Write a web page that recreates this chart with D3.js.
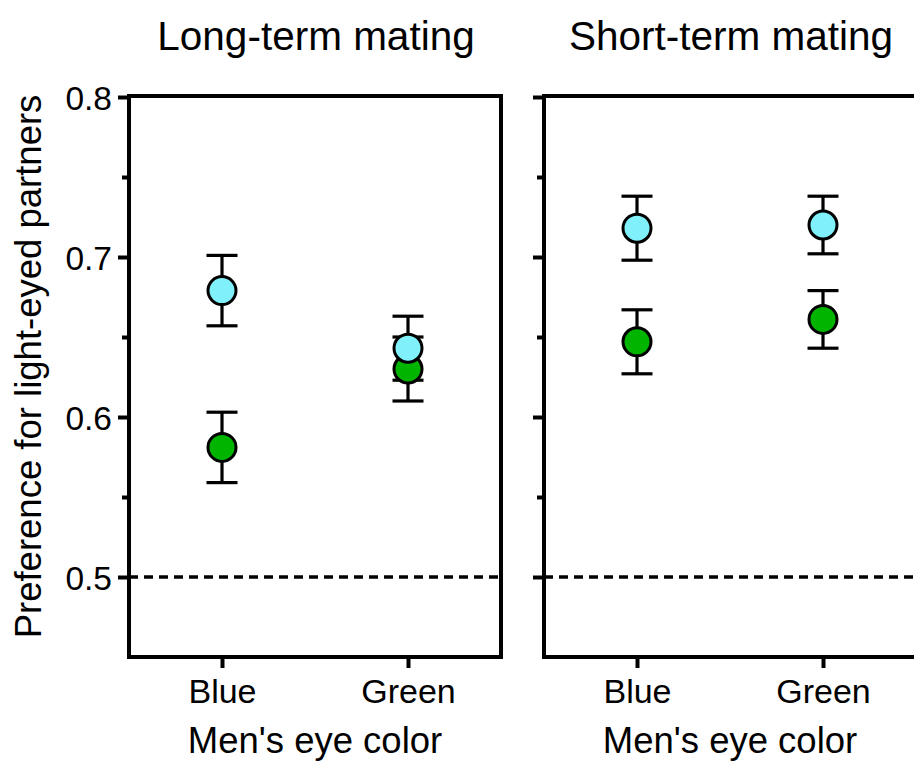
<!DOCTYPE html>
<html>
<head>
<meta charset="utf-8">
<script src="https://cdn.jsdelivr.net/npm/d3@7/dist/d3.min.js"></script>
<style>
  html, body { margin: 0; padding: 0; background: #fff; }
  svg { display: block; }
  text { font-family: "Liberation Sans", Arial, Helvetica, sans-serif; fill: #000; }
</style>
</head>
<body>
<svg id="chart" width="914" height="761"></svg>
<script>
// ---- Data ----
const panels = ["Long-term mating", "Short-term mating"];
const eyeColors = ["Blue", "Green"];               // men's eye color (x categories)
const seriesNames = ["Green-eyed", "Light-eyed"];   // marker series
// Long-term mating: values per eye color [Blue, Green]
const longGreen     = [0.581, 0.630];
const longGreenErr  = [0.022, 0.020];
const longLight     = [0.679, 0.643];
const longLightErr  = [0.022, 0.020];
// Short-term mating
const shortGreen    = [0.647, 0.661];
const shortGreenErr = [0.020, 0.018];
const shortLight    = [0.718, 0.720];
const shortLightErr = [0.020, 0.018];
const yTicksMajor = [0.5, 0.6, 0.7, 0.8];
const yTicksMinor = [0.55, 0.65, 0.75];
const chanceLevel = 0.5;

const panelData = [
  { title: panels[0], green: longGreen, greenErr: longGreenErr, light: longLight, lightErr: longLightErr },
  { title: panels[1], green: shortGreen, greenErr: shortGreenErr, light: shortLight, lightErr: shortLightErr }
];

// ---- Layout ----
const svg = d3.select("#chart");
const plotTop = 97, plotBottom = 657;
const panelW = 372;
const panelX = [129, 544];
const y = d3.scaleLinear().domain([0.45, 0.8]).range([plotBottom, plotTop]);
const colors = { light: "#80f0fa", green: "#00b400" };

panelData.forEach((pd, i) => {
  const x0 = panelX[i];
  const g = svg.append("g").attr("transform", `translate(${x0},0)`);
  const x = d3.scalePoint().domain(eyeColors).range([0, panelW]).padding(0.5);

  // title
  g.append("text").attr("x", panelW / 2 + 1).attr("y", 50)
    .attr("text-anchor", "middle").style("font-size", "40.5px").text(pd.title);

  // frame
  g.append("rect").attr("x", 0).attr("y", plotTop - 1).attr("width", panelW).attr("height", plotBottom - plotTop + 1)
    .attr("fill", "none").attr("stroke", "#000").attr("stroke-width", 4);

  // y ticks major
  const yAxis = d3.axisLeft(y).tickValues(yTicksMajor).tickSize(11)
    .tickFormat(i === 0 ? d3.format(".1f") : () => "");
  const ya = g.append("g").call(yAxis);
  ya.select(".domain").remove();
  ya.selectAll(".tick line").attr("stroke", "#000").attr("stroke-width", 4);
  ya.selectAll(".tick text").style("font-size", "33.5px").attr("x", -17).attr("dy", "0.36em");
  // minor ticks
  const ym = g.append("g").call(d3.axisLeft(y).tickValues(yTicksMinor).tickSize(7).tickFormat(() => ""));
  ym.select(".domain").remove();
  ym.selectAll(".tick line").attr("stroke", "#000").attr("stroke-width", 4);

  // x axis ticks
  const xa = g.append("g").attr("transform", `translate(0,${plotBottom})`)
    .call(d3.axisBottom(x).tickSize(11).tickPadding(11));
  xa.select(".domain").remove();
  xa.selectAll(".tick line").attr("stroke", "#000").attr("stroke-width", 4);
  xa.selectAll(".tick text").style("font-size", "34px").attr("dy", "0.71em");

  // x axis title
  g.append("text").attr("x", panelW / 2).attr("y", 753)
    .attr("text-anchor", "middle").style("font-size", "36.5px").text("Men's eye color");

  // chance line
  g.append("line").attr("x1", 0).attr("x2", panelW)
    .attr("y1", y(chanceLevel)).attr("y2", y(chanceLevel))
    .attr("stroke", "#000").attr("stroke-width", 3.5).attr("stroke-dasharray", "9,6");

  const series = [
    { vals: pd.green, errs: pd.greenErr, color: colors.green },
    { vals: pd.light, errs: pd.lightErr, color: colors.light }
  ];
  series.forEach(s => {
    eyeColors.forEach((c, j) => {
      const cx = x(c), v = s.vals[j], e = s.errs[j];
      g.append("line").attr("x1", cx).attr("x2", cx).attr("y1", y(v + e)).attr("y2", y(v - e))
        .attr("stroke", "#000").attr("stroke-width", 3.2);
      [v + e, v - e].forEach(w => {
        g.append("line").attr("x1", cx - 15.5).attr("x2", cx + 15.5).attr("y1", y(w)).attr("y2", y(w))
          .attr("stroke", "#000").attr("stroke-width", 3.2);
      });
    });
  });
  series.forEach(s => {
    eyeColors.forEach((c, j) => {
      g.append("circle").attr("cx", x(c)).attr("cy", y(s.vals[j])).attr("r", 14)
        .attr("fill", s.color).attr("stroke", "#000").attr("stroke-width", 3);
    });
  });
});

// y axis label
svg.append("text").attr("transform", `translate(41,366.5) rotate(-90)`)
  .attr("text-anchor", "middle").style("font-size", "36.5px").text("Preference for light-eyed partners");
</script>
</body>
</html>
